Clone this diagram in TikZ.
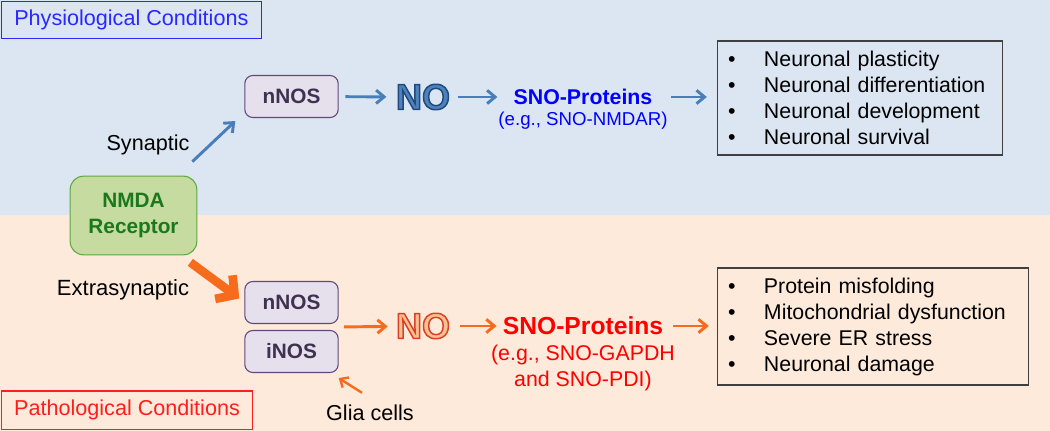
\documentclass[tikz,border=0pt]{standalone}
\usepackage{fontspec}
\setmainfont{Liberation Sans}
\usepackage{tikz}
\usetikzlibrary{arrows.meta}
\usetikzlibrary{calc}

\definecolor{physbg}{RGB}{220,230,242}
\definecolor{pathbg}{RGB}{253,234,218}
\definecolor{physblue}{RGB}{40,40,255}
\definecolor{pathred}{RGB}{255,30,30}
\definecolor{arrowblue}{RGB}{74,126,187}
\definecolor{arroworange}{RGB}{246,108,28}
\definecolor{nmdafill}{RGB}{197,219,160}
\definecolor{nmdaline}{RGB}{96,168,64}
\definecolor{nmdatext}{RGB}{28,120,28}
\definecolor{nosfill}{RGB}{229,224,236}
\definecolor{nosline}{RGB}{96,73,122}
\definecolor{nostext}{RGB}{64,49,82}
\definecolor{nobluefill}{RGB}{79,129,189}
\definecolor{noredfill}{RGB}{250,192,144}

\newcommand{\bul}{\makebox[27pt][l]{\textbullet}}
% stroked and filled text, #1 = stroke colour as pdf rgb
\newcommand{\outlined}[2]{\special{pdf:literal q 2 Tr 1.1 w #1 RG}#2\special{pdf:literal Q}}

\begin{document}
\begin{tikzpicture}[x=0.75pt,y=-0.75pt,
	condbox/.style={draw,line width=1pt,inner xsep=8pt,inner ysep=5pt,font=\fontsize{16.2}{19}\selectfont},
	nosbox/.style={draw=nosline,fill=nosfill,rounded corners=6pt,line width=0.8pt,minimum width=70pt,minimum height=31.5pt,text=nostext,font=\fontsize{15.6}{18}\selectfont\bfseries},
	notext/.style={inner sep=0pt,font=\fontsize{27}{30}\selectfont\bfseries},
	labeltext/.style={inner sep=0pt,font=\fontsize{16.2}{19}\selectfont},
	listbox/.style={draw=black!75,line width=0.8pt,inner xsep=8pt,align=left,font=\fontsize{16}{19.5}\selectfont},
	bluearrow/.style={draw=arrowblue,line width=2.2pt,-{Straight Barb[length=6pt,width=10pt]}},
	orangearrow/.style={draw=arroworange,line width=2.2pt,-{Straight Barb[length=6pt,width=10pt]}}]
	
	% backgrounds
	\useasboundingbox (0,0) rectangle (1050,431);
	\fill[physbg] (0,0) rectangle (1050,215);
	\fill[pathbg] (0,215) rectangle (1050,431);
	
	% condition labels
	\node[condbox,draw=physblue,text=physblue,anchor=north west,minimum width=195pt,minimum height=27.5pt] (phys) at (0.7,1) {Physiological Conditions};
	\node[condbox,draw=pathred,text=pathred,anchor=south west,minimum width=188.5pt,minimum height=29pt] (path) at (0.7,430.3) {Pathological Conditions};
	
	% receptor
	\node[draw=nmdaline,fill=nmdafill,rounded corners=10pt,line width=0.8pt,minimum width=95pt,minimum height=59pt,align=center,text=nmdatext,font=\fontsize{15.6}{18.8}\selectfont\bfseries] (nmda) at (133.5,215.5) {NMDA\\Receptor};
	
	% NOS boxes
	\node[nosbox] (nnos1) at (291.5,96.5) {nNOS};
	\node[nosbox] (nnos2) at (291.5,302.5) {nNOS};
	\node[nosbox] (inos) at (291.5,351.5) {iNOS};
	\coordinate (nos2) at ($(nnos2.south east)!0.5!(inos.north east)$);
	
	% outlined NO
	\node[notext,text=nobluefill] (no1) at (423,97) {\outlined{0.12 0.29 0.49}{NO}};
	\node[notext,text=noredfill] (no2) at (423,326) {\outlined{0.85 0.25 0.15}{NO}};
	
	% SNO proteins
	\node[inner sep=0pt,text=blue,font=\fontsize{16}{19}\selectfont\bfseries] (sno1) at (583,97) {SNO-Proteins};
	\node[inner sep=0pt,text=blue,font=\fontsize{14}{17}\selectfont] (eg1) at (583,121) {(e.g., SNO-NMDAR)};
	\node[inner sep=0pt,text=red,font=\fontsize{18.5}{22}\selectfont\bfseries] (sno2) at (583,326) {SNO-Proteins};
	\node[inner sep=0pt,text=red,align=center,font=\fontsize{16}{19}\selectfont] (eg2) at (583,368) {(e.g., SNO-GAPDH\\and SNO-PDI)};
	
	% outcome lists
	\node[listbox,text width=198pt,minimum height=85.5pt] (list1) at (860,98) {\bul Neuronal plasticity\\ \bul Neuronal differentiation\\ \bul Neuronal development\\ \bul Neuronal survival};
	\node[listbox,text width=217.5pt,minimum height=87.75pt] (list2) at (873,326.5) {\bul Protein misfolding\\ \bul Mitochondrial dysfunction\\ \bul Severe ER stress\\ \bul Neuronal damage};
	
	% side labels
	\node[labeltext] (syn) at (148,145) {Synaptic};
	\node[labeltext,font=\fontsize{16.5}{19}\selectfont] (extra) at (123,290) {Extrasynaptic};
	\node[labeltext] (glia) at (370,413) {Glia cells};
	
	% physiological arrows
	\draw[bluearrow] ([shift={(-5,-14)}]nmda.north east) -- ([shift={(-9,3)}]nnos1.south west);
	\draw[bluearrow,shorten <=5pt,shorten >=7pt] (nnos1) -- (no1);
	\draw[bluearrow,shorten <=6pt,shorten >=12pt] (no1) -- (sno1);
	\draw[bluearrow,shorten <=14pt,shorten >=7.5pt] (sno1) -- (sno1 -| list1.west);
	
	% pathological arrows
	\draw[draw=arroworange,line width=6.5pt,-{Straight Barb[length=10pt,width=22pt]}] ([shift={(-7,7)}]nmda.south east) -- ([shift={(-5,-4)}]nnos2.west);
	\draw[orangearrow,shorten <=4pt,shorten >=6pt] (nos2) -- (no2);
	\draw[orangearrow,shorten <=7.5pt,shorten >=4.5pt] (no2) -- (sno2);
	\draw[orangearrow,shorten <=7pt,shorten >=6pt] (sno2) -- (sno2 -| list2.west);
	\draw[draw=arroworange,line width=1.8pt,-{Straight Barb[length=5pt,width=9pt]}] ([shift={(-8,-12)}]glia.north) -- ([shift={(0,5)}]inos.south east);
	
\end{tikzpicture}
\end{document}
